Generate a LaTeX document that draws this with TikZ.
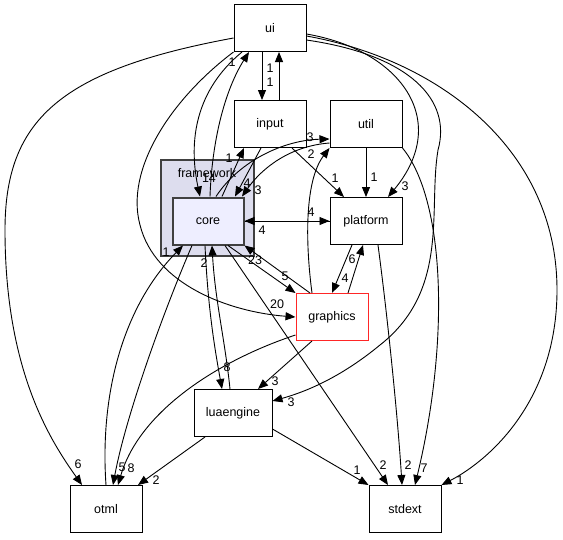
\documentclass[tikz,border=0pt]{standalone}
\usepackage{fontspec}
\setmainfont{Liberation Sans}
\usetikzlibrary{arrows.meta}
\definecolor{clusterfill}{RGB}{221,221,238}
\definecolor{corefill}{RGB}{238,238,255}
\definecolor{edgegray}{RGB}{64,64,64}
\tikzset{
  dirbox/.style={draw=black, fill=white, line width=1pt, minimum width=72pt, minimum height=47pt,
              inner sep=0pt, font=\fontsize{12.5}{14}\selectfont},
  corebox/.style={dirbox, draw=edgegray, fill=corefill, line width=2pt},
  hotbox/.style={dirbox, draw=red!85},
  cluster/.style={draw=edgegray, fill=clusterfill, line width=1.5pt},
  dep/.style={-{Triangle[length=10pt,width=8pt]}, line width=0.9pt},
  num/.style={font=\fontsize{12.5}{14}\selectfont, inner sep=0pt},
}
\begin{document}
\begin{tikzpicture}[x=1pt,y=-1pt]
    \useasboundingbox (0,0) rectangle (563,539);
    \fill[white] (0,0) rectangle (563,539);
    % cluster
    \draw[cluster] (161,160) rectangle (254,256);
    \node[num] (fwlabel) at (207,173) {framework};
    % directories
    \node[dirbox] (ui) at (270,28) {ui};
    \node[dirbox] (input) at (270,124) {input};
    \node[dirbox] (util) at (366,124) {util};
    \node[corebox, minimum width=71pt, minimum height=47pt] (core) at (208,221) {core};
    \node[dirbox] (platform) at (366,221) {platform};
    \node[hotbox] (graphics) at (332,317) {graphics};
    \node[dirbox, minimum width=78pt] (luaengine) at (233,413) {luaengine};
    \node[dirbox] (otml) at (106,509) {otml};
    \node[dirbox] (stdext) at (405,509) {stdext};
    % dependencies
    \draw[dep] ([xshift=-8pt]ui.south) -- ([xshift=-8pt]input.north);
    \draw[dep] ([xshift=9pt]input.north) -- ([xshift=9pt]ui.south);
    \draw[dep] ([xshift=2pt]core.north) .. controls (212,140) and (225,90) .. ([xshift=-21pt]ui.south);
    \draw[dep] ([xshift=-28pt]ui.south) .. controls (196,90) and (188,140) .. ([xshift=-8pt]core.north);
    \draw[dep] ([xshift=14pt]core.north) -- ([xshift=-26pt]input.south);
    \draw[dep] ([xshift=-9pt]input.south) -- ([xshift=27pt]core.north);
    \draw[dep] ([yshift=-19pt]util.west) .. controls (290,146) and (262,168) .. ([xshift=34pt]core.north);
    \draw[dep] ([xshift=8pt]core.north) .. controls (240,160) and (285,140) .. ([yshift=-15pt]util.west);
    \draw[dep] ([xshift=-20pt]graphics.north) .. controls (305,240) and (305,180) .. (util.south west);
    \draw[dep] (core.east) -- (platform.west);
    \draw[dep] (platform.west) -- (core.east);
    \draw[dep] ([xshift=22pt]input.south) -- ([xshift=-22pt]platform.north);
    \draw[dep] (util.south) -- (platform.north);
    \draw[dep] ([yshift=-6pt]ui.east) .. controls (400,50) and (452,120) .. ([xshift=22pt]platform.north);
    \draw[dep] ([xshift=-14pt]platform.south) -- (graphics.north);
    \draw[dep] ([xshift=16pt]graphics.north) -- ([xshift=-3pt]platform.south);
    \draw[dep] ([xshift=20pt]core.south) -- (graphics.north west);
    \draw[dep] ([xshift=-22pt]graphics.north) -- (core.south east);
    \draw[dep] (ui.south west) .. controls (170,100) and (125,170) .. (140,225)
                               .. controls (155,285) and (230,312) .. (graphics.west);
    \draw[dep] ([yshift=-10pt]ui.west) .. controls (60,70) and (5,120) .. (5,230)
                                       .. controls (5,370) and (50,440) .. ([xshift=-24pt]otml.north);
    \draw[dep] ([yshift=-12pt]ui.east) .. controls (410,55) and (452,100) .. (438,150)
                                       .. controls (428,210) and (450,290) .. (380,345)
                                       .. controls (340,378) and (305,392) .. ([yshift=12pt]luaengine.east);
    \draw[dep] ([yshift=-8pt]ui.east) .. controls (440,60) and (557,150) .. (557,290)
                                      .. controls (557,400) and (490,460) .. (stdext.north east);
    \draw[dep] (util.south east) .. controls (445,200) and (450,340) .. ([xshift=10pt]stdext.north);
    \draw[dep] ([xshift=12pt]platform.south) .. controls (388,320) and (398,420) .. ([xshift=-3pt]stdext.north);
    \draw[dep] ([xshift=17pt]core.south) -- ([xshift=-17pt]stdext.north);
    \draw[dep] ([yshift=-16pt]luaengine.east) -- (stdext.north west);
    \draw[dep] ([xshift=-16pt]core.south) .. controls (160,320) and (125,420) .. ([xshift=7pt]otml.north);
    \draw[dep] (otml.north) .. controls (100,400) and (120,310) .. ([xshift=-25pt]core.south);
    \draw[dep] ([yshift=-18pt]graphics.west) .. controls (220,360) and (140,410) .. ([xshift=12pt]otml.north);
    \draw[dep] ([xshift=-28pt]luaengine.south) -- ([xshift=32pt]otml.north);
    \draw[dep] ([xshift=-3pt]core.south) .. controls (208,310) and (215,350) .. ([xshift=-11pt]luaengine.north);
    \draw[dep] ([xshift=-3pt]luaengine.north) .. controls (225,340) and (215,300) .. ([xshift=4pt]core.south);
    \draw[dep] ([xshift=-20pt]graphics.south) -- ([xshift=25pt]luaengine.north);
    % edge counts
    \foreach \x/\y/\t [count=\k] in {270/68/1,270/82/1,232/62/1,209/178/14,229/158/1,247/183/4,
        258/190/3,310/137/3,311/154/2,311/212/4,262/230/4,335/178/1,374/177/1,405/186/3,
        345/278/4,352/259/6,285/276/5,255/260/23,277/304/20,78/464/6,291/402/3,275/381/3,
        227/367/8,204/263/2,166/252/1,122/467/5,131/468/8,156/480/2,357/470/1,383/465/2,
        408/465/2,424/468/7,460/480/1}
      \node[num] (cnt\k) at (\x,\y) {\t};
\end{tikzpicture}
\end{document}
